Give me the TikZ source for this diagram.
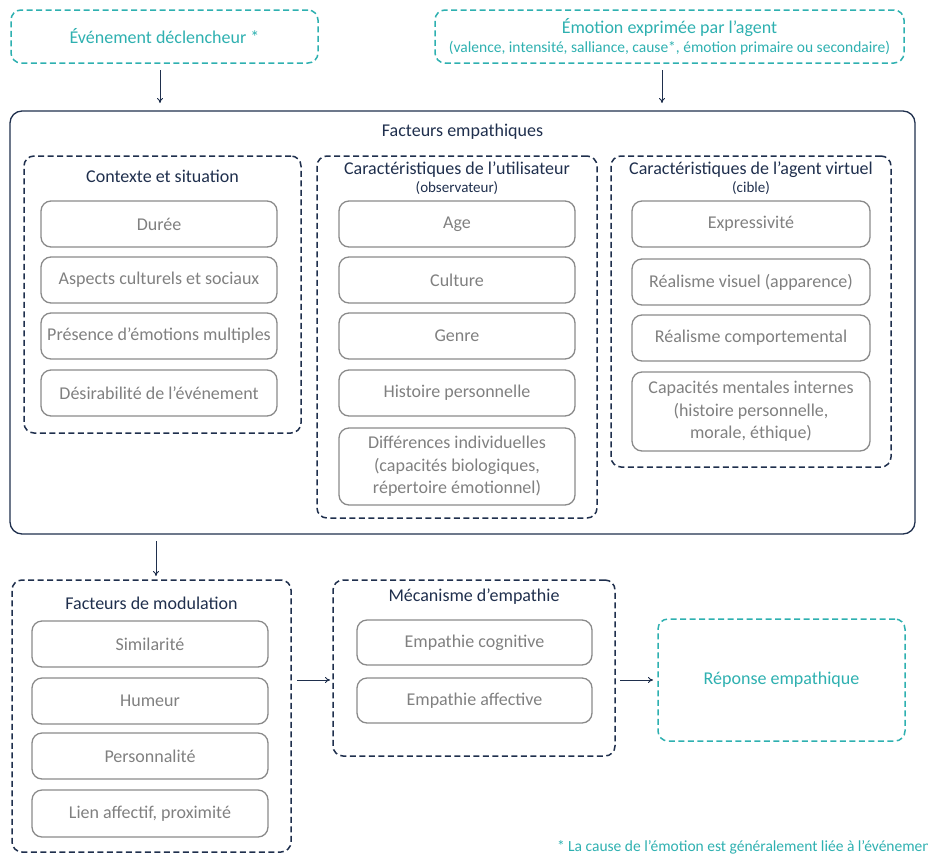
\documentclass[tikz,border=0pt]{standalone}
\usepackage{fontspec}
\setmainfont{Carlito}
\usetikzlibrary{arrows.meta}
\definecolor{tealc}{HTML}{2EB0B0}
\definecolor{navy}{HTML}{1F2F4D}
\definecolor{greyb}{HTML}{8A8A8A}
\definecolor{greyt}{HTML}{808080}
\begin{document}
\begin{tikzpicture}[x=1pt,y=-1pt,
 every node/.style={inner sep=0pt, outer sep=0pt, font=\fontsize{18}{21}\selectfont},
 tealbox/.style={draw=tealc, line width=1.5pt, dash pattern=on 6pt off 3.5pt, rounded corners=10pt, text=tealc, align=center},
 grp/.style={draw=navy, line width=1.5pt, dash pattern=on 6pt off 3.5pt, rounded corners=10pt},
 item/.style={draw=greyb, line width=1.3pt, rounded corners=10pt, text=greyt, align=center, font=\fontsize{18}{22.5}\selectfont},
 ttl/.style={text=navy, align=center},
 sub/.style={text=navy, font=\fontsize{15}{17}\selectfont},
 arr/.style={draw=navy, line width=1pt, -{To[length=5pt,width=6pt]}}]
\useasboundingbox (0,0) rectangle (928,854);

% top boxes
\node[tealbox, minimum width=307, minimum height=53] (ev) at (164.5,36.5) {Événement déclencheur *};
\node[tealbox, minimum width=469, minimum height=53] (emo) at (669.5,36.5)
 {Émotion exprimée par l’agent\\[-2pt]{\fontsize{15.5}{17}\selectfont (valence, intensité, salliance, cause*, émotion primaire ou secondaire)}};

% big box
\node[draw=navy, line width=1.3pt, rounded corners=12pt, minimum width=905, minimum height=423] (big) at (462.5,322.5) {};
\node[ttl] (bigt) at (462.5,132) {Facteurs empathiques};

% group 1
\node[grp, minimum width=277, minimum height=277] (g1) at (162.5,294.5) {};
\node[ttl] (g1t) at (162.5,176) {Contexte et situation};
\node[item, minimum width=236, minimum height=46] (a1) at (159,224) {Durée};
\node[item, minimum width=236, minimum height=46] (a2) at (159,280) {Aspects culturels et sociaux};
\node[item, minimum width=236, minimum height=46] (a3) at (159,336) {Présence d’émotions multiples};
\node[item, minimum width=236, minimum height=46] (a4) at (159,393) {Désirabilité de l’événement};

% group 2
\node[grp, minimum width=280, minimum height=362] (g2) at (457,337) {};
\node[ttl] (g2t) at (457,170) {Caractéristiques de l’utilisateur};
\node[sub] (g2s) at (457,188) {(observateur)};
\node[item, minimum width=236, minimum height=46] (b1) at (457,224) {Age};
\node[item, minimum width=236, minimum height=46] (b2) at (457,280) {Culture};
\node[item, minimum width=236, minimum height=46] (b3) at (457,336) {Genre};
\node[item, minimum width=236, minimum height=46] (b4) at (457,393) {Histoire personnelle};
\node[item, minimum width=236, minimum height=77] (b5) at (457,466.5) {Différences individuelles\\(capacités biologiques,\\répertoire émotionnel)};

% group 3
\node[grp, minimum width=280, minimum height=311] (g3) at (751,311.5) {};
\node[ttl] (g3t) at (751,170) {Caractéristiques de l’agent virtuel};
\node[sub] (g3s) at (751,188) {(cible)};
\node[item, minimum width=238, minimum height=46] (c1) at (751,224) {Expressivité};
\node[item, minimum width=238, minimum height=46] (c2) at (751,282) {Réalisme visuel (apparence)};
\node[item, minimum width=238, minimum height=46] (c3) at (751,338) {Réalisme comportemental};
\node[item, minimum width=238, minimum height=79] (c4) at (751,411.5) {Capacités mentales internes\\(histoire personnelle,\\morale, éthique)};

% modulation
\node[grp, minimum width=279, minimum height=272] (mod) at (151.5,716) {};
\node[ttl] (modt) at (151.5,603) {Facteurs de modulation};
\node[item, minimum width=236, minimum height=46] (m1) at (150,644) {Similarité};
\node[item, minimum width=236, minimum height=46] (m2) at (150,701) {Humeur};
\node[item, minimum width=236, minimum height=46] (m3) at (150,756) {Personnalité};
\node[item, minimum width=236, minimum height=47] (m4) at (150,813.5) {Lien affectif, proximité};

% mecanisme
\node[grp, minimum width=282, minimum height=176] (mec) at (474,668) {};
\node[ttl] (mect) at (474,597) {Mécanisme d’empathie};
\node[item, minimum width=235, minimum height=45] (e1) at (474.5,642.5) {Empathie cognitive};
\node[item, minimum width=235, minimum height=45] (e2) at (474.5,700.5) {Empathie affective};

% reponse
\node[tealbox, minimum width=247, minimum height=122] (rep) at (781.5,680) {Réponse empathique};

% footnote
\node[anchor=west, text=tealc, font=\fontsize{15.5}{17}\selectfont] (fn) at (557,847) {* La cause de l’émotion est généralement liée à l’événement};

% arrows
\draw[arr, shorten <=7pt, shorten >=8pt] ([xshift=-4.5pt]ev.south) -- ([xshift=-4.5pt]ev.south |- big.north);
\draw[arr, shorten <=7pt, shorten >=8pt] ([xshift=-7.5pt]emo.south) -- ([xshift=-7.5pt]emo.south |- big.north);
\draw[arr, shorten <=7pt, shorten >=4pt] ([xshift=4.5pt]mod.north |- big.south) -- ([xshift=4.5pt]mod.north);
\draw[arr, shorten <=6pt, shorten >=3pt] (mod.east |- rep.west) -- (mec.west |- rep.west);
\draw[arr, shorten <=5pt, shorten >=5pt] (mec.east |- rep.west) -- (rep.west);
\end{tikzpicture}
\end{document}
